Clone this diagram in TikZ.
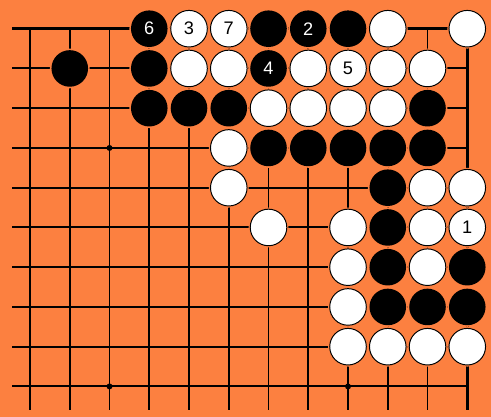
\documentclass[tikz,border=0pt]{standalone}
\usepackage{fontspec}
\setsansfont{Liberation Sans}
\definecolor{boardorange}{RGB}{252,128,64}
\tikzset{
  gridline/.style={line width=1.4pt},
  edgeline/.style={line width=2.2pt},
  stone/.style={circle, minimum size=0.92cm, inner sep=0pt,
    font=\sffamily\fontsize{13}{13}\selectfont},
  blackstone/.style={stone, fill=black, text=white},
  whitestone/.style={stone, draw=black, line width=0.7pt, fill=white, text=black},
}

\begin{document}
\begin{tikzpicture}
  % board
  \fill[boardorange] (-0.755,0.722) rectangle (11.597,-9.768);
  \useasboundingbox (-0.755,0.722) rectangle (11.597,-9.768);
  \foreach \x in {0,...,10}
    \draw[gridline] (\x,0) -- (\x,-9.59);
  \foreach \y in {1,...,9}
    \draw[gridline] (-0.45,-\y) -- (11,-\y);
  \draw[edgeline] (-0.45,0) -- (11,0) -- (11,-9.59);
  % hoshi
  \foreach \x/\y in {2/3, 2/9, 8/9}
    \fill (\x,-\y) circle (0.075);
  % black stones
  \foreach \x/\y/\n in {3/0/6, 6/0/{}, 7/0/2, 8/0/{}, 1/1/{}, 3/1/{}, 6/1/4,
      3/2/{}, 4/2/{}, 5/2/{}, 10/2/{}, 6/3/{}, 7/3/{}, 8/3/{}, 9/3/{},
      10/3/{}, 9/4/{}, 9/5/{}, 9/6/{}, 11/6/{}, 9/7/{}, 10/7/{}, 11/7/{}}
  {
    \fill[boardorange] (\x,-\y) circle (0.5);
    \node[blackstone] (b\x-\y) at (\x,-\y) {\n};
  }
  % white stones
  \foreach \x/\y/\n in {4/0/3, 5/0/7, 9/0/{}, 11/0/{}, 4/1/{}, 5/1/{},
      7/1/{}, 8/1/5, 9/1/{}, 10/1/{}, 6/2/{}, 7/2/{}, 8/2/{}, 9/2/{},
      5/3/{}, 5/4/{}, 10/4/{}, 11/4/{}, 6/5/{}, 8/5/{}, 10/5/{}, 11/5/1,
      8/6/{}, 10/6/{}, 8/7/{}, 8/8/{}, 9/8/{}, 10/8/{}, 11/8/{}}
  {
    \fill[boardorange] (\x,-\y) circle (0.5);
    \node[whitestone] (w\x-\y) at (\x,-\y) {\n};
  }
\end{tikzpicture}
\end{document}
